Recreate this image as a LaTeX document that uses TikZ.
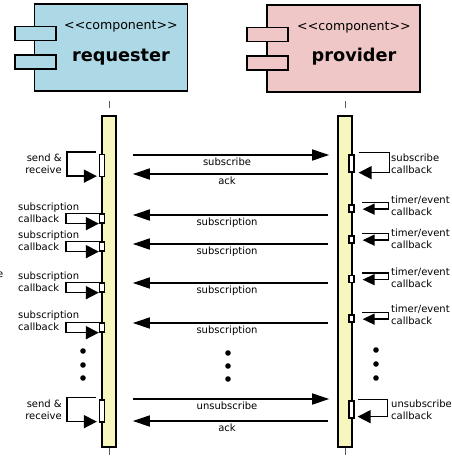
\documentclass[tikz,border=0pt]{standalone}
\usepackage{fontspec}
\setmainfont{DejaVu Sans}
\usetikzlibrary{arrows.meta}
\definecolor{reqblue}{RGB}{173,216,230}
\definecolor{provpink}{RGB}{239,199,199}
\definecolor{lifeyellow}{RGB}{247,247,189}

\begin{document}
\begin{tikzpicture}[x=1pt,y=-1pt,
    comp/.style={draw=black,line width=1.6pt,inner sep=0pt,minimum width=153pt,minimum height=87pt},
    port/.style={draw=black,line width=1.6pt,inner sep=0pt,minimum width=41pt,minimum height=14pt},
    bar/.style={draw=black,line width=1.6pt,fill=lifeyellow,inner sep=0pt,minimum width=14pt,minimum height=331pt},
    actbox/.style={draw=black,line width=1.3pt,fill=white,inner sep=0pt,minimum width=5pt},
    msgr/.style={line width=1.5pt,-{Triangle[length=17pt,width=11pt]},shorten <=16pt,shorten >=8pt},
    msgl/.style={line width=1.5pt,-{Triangle[length=17pt,width=11pt]},shorten <=9pt,shorten >=16pt},
    cb/.style={line width=1.5pt,-{Triangle[length=13pt,width=13pt]}},
    tcb/.style={line width=1.5pt,-{Triangle[length=12pt,width=11pt]}},
    lbl/.style={font=\fontsize{10}{12}\selectfont,inner sep=0pt},
    stereo/.style={font=\fontsize{12.6}{14}\selectfont,inner sep=0pt},
    cname/.style={font=\fontsize{17.7}{19}\selectfont\bfseries,inner sep=0pt}]
    \useasboundingbox (0,0) rectangle (452,461);
    % components
    \node[comp,fill=reqblue] (req) at (111,47.5) {};
    \node[port,fill=reqblue] (reqp1) at (35.5,33.5) {};
    \node[port,fill=reqblue] (reqp2) at (35.5,62) {};
    \node[stereo] (reqst) at (121,26) {<\kern0pt<component>\kern0pt>};
    \node[cname] (reqname) at (121,57) {requester};
    \node[comp,fill=provpink] (prov) at (343.5,48.5) {};
    \node[port,fill=provpink] (provp1) at (267.5,34.5) {};
    \node[port,fill=provpink] (provp2) at (267.5,63) {};
    \node[stereo] (provst) at (354,27) {<\kern0pt<component>\kern0pt>};
    \node[cname] (provname) at (354,57) {provider};
    % lifelines
    \node[bar] (reqbar) at (109,281.5) {};
    \node[bar] (provbar) at (345,281.5) {};
    \draw[gray!70!black,line width=0.8pt] (reqbar.north) ++(0,-14) -- ++(0,7);
    \draw[gray!70!black,line width=0.8pt] (reqbar.south) -- ++(0,7);
    \draw[gray!70!black,line width=0.8pt] (provbar.north) ++(0,-14) -- ++(0,7);
    \draw[gray!70!black,line width=0.8pt] (provbar.south) -- ++(0,7);
    % messages
    \draw[msgr] (reqbar.east |- 0,155) -- node[lbl,below=2.5pt] {subscribe} (provbar.west |- 0,155);
    \draw[msgl] (provbar.west |- 0,174) -- node[lbl,below=2.5pt] {ack} (reqbar.east |- 0,174);
    \draw[msgl] (provbar.west |- 0,215) -- node[lbl,below=2.5pt] {subscription} (reqbar.east |- 0,215);
    \draw[msgl] (provbar.west |- 0,244) -- node[lbl,below=2.5pt] {subscription} (reqbar.east |- 0,244);
    \draw[msgl] (provbar.west |- 0,283) -- node[lbl,below=2.5pt] {subscription} (reqbar.east |- 0,283);
    \draw[msgl] (provbar.west |- 0,323) -- node[lbl,below=2.5pt] {subscription} (reqbar.east |- 0,323);
    \draw[msgr] (reqbar.east |- 0,399) -- node[lbl,below=2.5pt] {unsubscribe} (provbar.west |- 0,399);
    \draw[msgl] (provbar.west |- 0,421) -- node[lbl,below=2.5pt] {ack} (reqbar.east |- 0,421);
    % requester activations
    \node[actbox,minimum height=22pt] (rsr1) at (102,165.5) {};
    \draw[cb] ([shift={(-3pt,2pt)}]rsr1.north west) -- ++(-29,0) |- ([shift={(-2pt,1pt)}]rsr1.south west);
    \node[lbl,anchor=east,align=right] (lsr1) at (62,163.5) {send \&\\receive};
    \node[actbox,minimum height=9pt] (rcb1) at (102,218.5) {};
    \draw[cb] (rcb1.north west) -- ++(-33,0) |- (rcb1.south west);
    \node[lbl,anchor=west,align=left] (lcb1) at (18,213) {subscription\\callback};
    \node[actbox,minimum height=9pt] (rcb2) at (102,246.5) {};
    \draw[cb] (rcb2.north west) -- ++(-33,0) |- (rcb2.south west);
    \node[lbl,anchor=west,align=left] (lcb2) at (18,241) {subscription\\callback};
    \node[actbox,minimum height=9pt] (rcb3) at (102,287.5) {};
    \draw[cb] (rcb3.north west) -- ++(-33,0) |- (rcb3.south west);
    \node[lbl,anchor=west,align=left] (lcb3) at (18,281.5) {subscription\\callback};
    \node[actbox,minimum height=9pt] (rcb4) at (102,327.5) {};
    \draw[cb] (rcb4.north west) -- ++(-33,0) |- (rcb4.south west);
    \node[lbl,anchor=west,align=left] (lcb4) at (18,320.5) {subscription\\callback};
    \node[actbox,minimum height=22pt] (rsr2) at (102,411) {};
    \draw[cb] ([shift={(-3pt,2pt)}]rsr2.north west) -- ++(-29,0) |- ([shift={(-2pt,1pt)}]rsr2.south west);
    \node[lbl,anchor=east,align=right] (lsr2) at (62,409.5) {send \&\\receive};
    \node[lbl,anchor=east] (cut) at (3.5,275) {e};
    % provider activations
    \node[actbox,minimum height=17pt] (psc) at (351.5,163.5) {};
    \draw[cb] ([shift={(4pt,2pt)}]psc.north east) -- ++(31,0) |- ([xshift=4pt]psc.south east);
    \node[lbl,anchor=west,align=left] (lsc) at (391,163.5) {subscribe\\callback};
    \node[actbox,minimum height=7pt] (pt1) at (351.5,208.5) {};
    \draw[tcb] ([shift={(7pt,2pt)}]pt1.north east) -- ++(27,0) |- ([shift={(8pt,3.5pt)}]pt1.south east);
    \node[lbl,anchor=west,align=left] (lt1) at (391,205.5) {timer/event\\callback};
    \node[actbox,minimum height=7pt] (pt2) at (351.5,239.5) {};
    \draw[tcb] ([shift={(7pt,2pt)}]pt2.north east) -- ++(27,0) |- ([shift={(8pt,3.5pt)}]pt2.south east);
    \node[lbl,anchor=west,align=left] (lt2) at (391,239) {timer/event\\callback};
    \node[actbox,minimum height=7pt] (pt3) at (351.5,279) {};
    \draw[tcb] ([shift={(7pt,2pt)}]pt3.north east) -- ++(27,0) |- ([shift={(8pt,3.5pt)}]pt3.south east);
    \node[lbl,anchor=west,align=left] (lt3) at (391,277.5) {timer/event\\callback};
    \node[actbox,minimum height=7pt] (pt4) at (351.5,318.5) {};
    \draw[tcb] ([shift={(7pt,2pt)}]pt4.north east) -- ++(27,0) |- ([shift={(8pt,3.5pt)}]pt4.south east);
    \node[lbl,anchor=west,align=left] (lt4) at (391,315) {timer/event\\callback};
    \node[actbox,minimum height=17pt] (pus) at (351.5,409.5) {};
    \draw[cb] ([shift={(3pt,1pt)}]pus.north east) -- ++(30,0) |- ([shift={(3pt,2pt)}]pus.south east);
    \node[lbl,anchor=west,align=left] (lus) at (391,410) {unsubscribe\\callback};
    % continuation dots
    \fill (83,351) circle (2.8) (83,365) circle (2.8) (83,378) circle (2.8);
    \fill (228,353) circle (2.8) (228,366) circle (2.8) (228,379) circle (2.8);
    \fill (376,350) circle (2.8) (376,364) circle (2.8) (376,378) circle (2.8);
\end{tikzpicture}
\end{document}
